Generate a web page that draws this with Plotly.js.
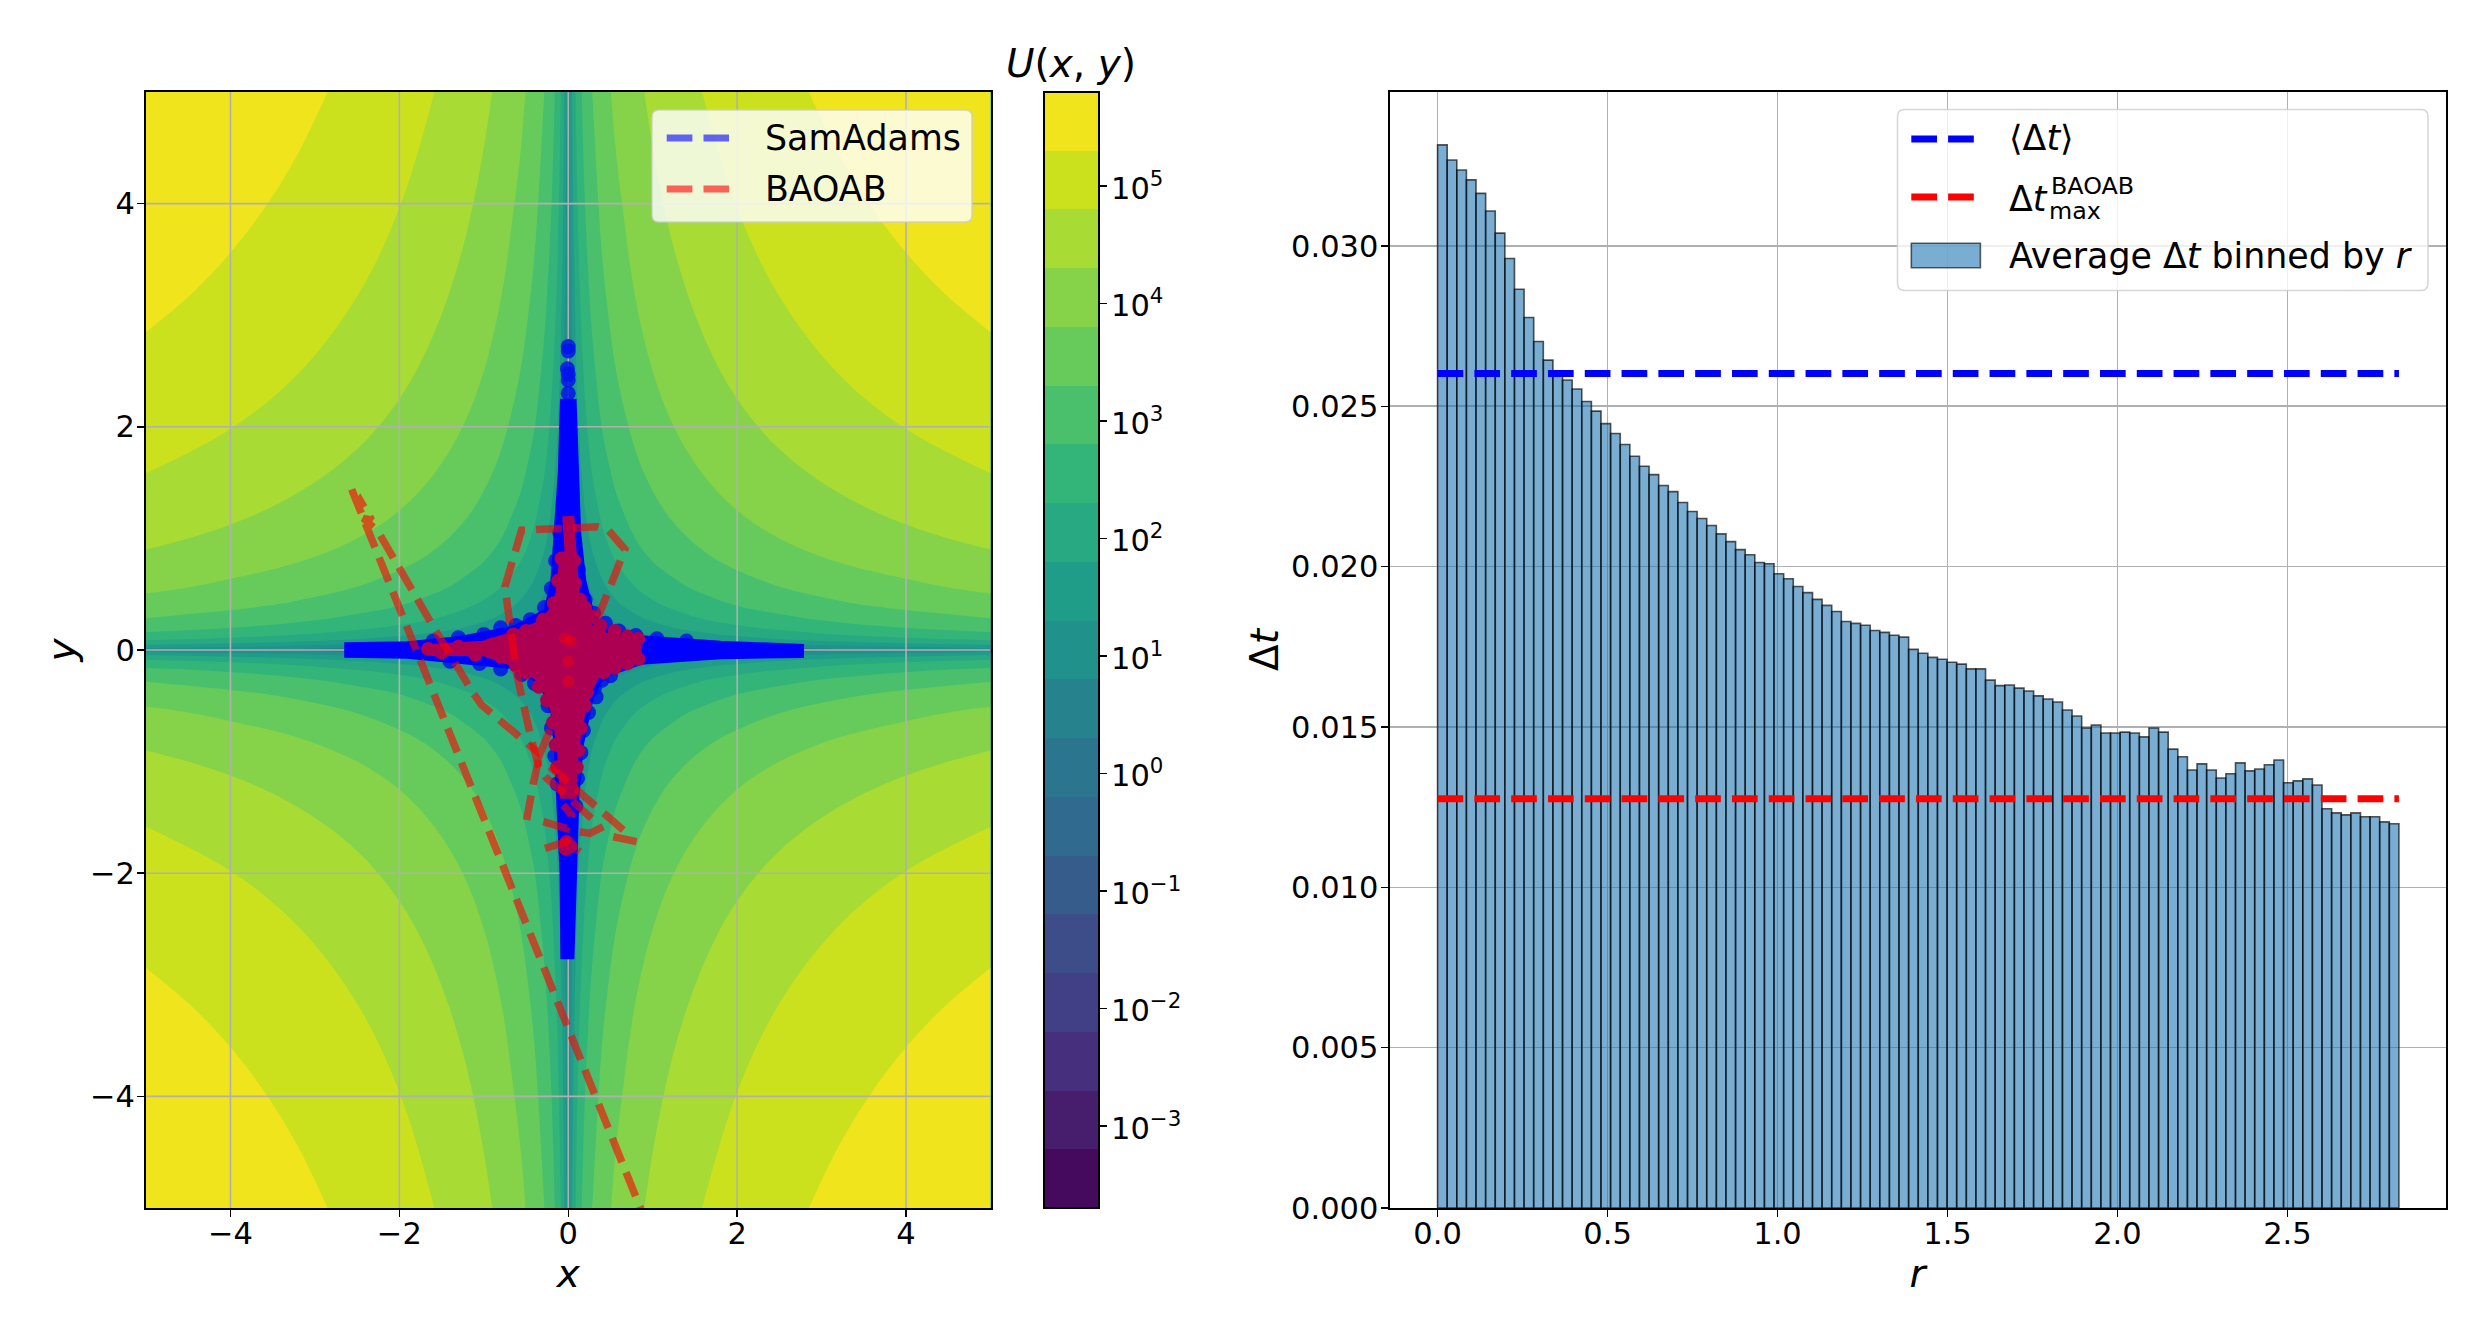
<!DOCTYPE html>
<html>
<head>
<meta charset="utf-8">
<script src="https://cdn.plot.ly/plotly-3.0.1.min.js"></script>
<style>html,body{margin:0;padding:0;background:#fff}</style>
</head>
<body>
<div id="chart" style="width:2490px;height:1337px"></div>
<script>
// Left panel: log10 U, one quadrant (the field is mirror symmetric)
const gridNodes = [0, 0.02, 0.04, 0.07, 0.1, 0.14, 0.2, 0.28, 0.4, 0.56, 0.8, 1, 1.25, 1.6, 2, 2.5, 3.2, 4, 5];
const logU = [
    [-3.70,-3.70,-3.10,-2.61,-2.30,-2.01,-1.70,-1.41,-1.10,-0.80,-0.49,-0.30,-0.11,0.11,0.30,0.49,0.71,0.90,1.10],
    [-3.70,-3.25,-2.79,-2.34,-2.04,-1.75,-1.44,-1.15,-0.84,-0.55,-0.24,-0.05,0.15,0.36,0.56,0.75,0.96,1.16,1.35],
    [-3.10,-2.79,-2.38,-1.96,-1.66,-1.38,-1.07,-0.78,-0.47,-0.18,0.13,0.32,0.52,0.73,0.92,1.12,1.33,1.53,1.72],
    [-2.61,-2.34,-1.96,-1.54,-1.25,-0.97,-0.66,-0.37,-0.06,0.23,0.54,0.73,0.93,1.14,1.33,1.53,1.74,1.94,2.13],
    [-2.30,-2.04,-1.66,-1.25,-0.96,-0.68,-0.37,-0.08,0.23,0.52,0.83,1.02,1.21,1.43,1.62,1.82,2.03,2.23,2.42],
    [-2.01,-1.75,-1.38,-0.97,-0.68,-0.39,-0.09,0.20,0.51,0.80,1.11,1.30,1.50,1.71,1.91,2.10,2.31,2.51,2.70],
    [-1.70,-1.44,-1.07,-0.66,-0.37,-0.09,0.21,0.50,0.81,1.10,1.41,1.61,1.80,2.02,2.21,2.40,2.62,2.81,3.01],
    [-1.41,-1.15,-0.78,-0.37,-0.08,0.20,0.50,0.79,1.10,1.39,1.70,1.90,2.09,2.31,2.50,2.69,2.91,3.10,3.29],
    [-1.10,-0.84,-0.47,-0.06,0.23,0.51,0.81,1.10,1.41,1.70,2.01,2.21,2.40,2.61,2.81,3.00,3.22,3.41,3.60],
    [-0.80,-0.55,-0.18,0.23,0.52,0.80,1.10,1.39,1.70,1.99,2.30,2.50,2.69,2.91,3.10,3.29,3.51,3.70,3.90],
    [-0.49,-0.24,0.13,0.54,0.83,1.11,1.41,1.70,2.01,2.30,2.61,2.81,3.00,3.21,3.41,3.60,3.82,4.01,4.20],
    [-0.30,-0.05,0.32,0.73,1.02,1.30,1.61,1.90,2.21,2.50,2.81,3.00,3.19,3.41,3.60,3.80,4.01,4.20,4.40],
    [-0.11,0.15,0.52,0.93,1.21,1.50,1.80,2.09,2.40,2.69,3.00,3.19,3.39,3.60,3.80,3.99,4.20,4.40,4.59],
    [0.11,0.36,0.73,1.14,1.43,1.71,2.02,2.31,2.61,2.91,3.21,3.41,3.60,3.82,4.01,4.20,4.42,4.61,4.81],
    [0.30,0.56,0.92,1.33,1.62,1.91,2.21,2.50,2.81,3.10,3.41,3.60,3.80,4.01,4.20,4.40,4.61,4.81,5.00],
    [0.49,0.75,1.12,1.53,1.82,2.10,2.40,2.69,3.00,3.29,3.60,3.80,3.99,4.20,4.40,4.59,4.81,5.00,5.19],
    [0.71,0.96,1.33,1.74,2.03,2.31,2.62,2.91,3.22,3.51,3.82,4.01,4.20,4.42,4.61,4.81,5.02,5.21,5.41],
    [0.90,1.16,1.53,1.94,2.23,2.51,2.81,3.10,3.41,3.70,4.01,4.20,4.40,4.61,4.81,5.00,5.21,5.41,5.60],
    [1.10,1.35,1.72,2.13,2.42,2.70,3.01,3.29,3.60,3.90,4.20,4.40,4.59,4.81,5.00,5.19,5.41,5.60,5.80],
];
// one colour per filled band, bottom to top
const bandColors = ["#450a5d","#471d6e","#46307d","#414086","#3c4d8a","#365c8c","#306a8e","#2b768e","#26838e","#21918c","#1f9d89","#29a982","#33b57a","#4bc06c","#67cb5c","#86d349","#a8db33","#cce11d","#f0e51d"];
const cbarRange = [-3.7, 5.8];
const cbarTicks = [-3, -2, -1, 0, 1, 2, 3, 4, 5];
const cbarLabels = ["10<sup>−3</sup>", "10<sup>−2</sup>", "10<sup>−1</sup>", "10<sup>0</sup>", "10<sup>1</sup>", "10<sup>2</sup>", "10<sup>3</sup>", "10<sup>4</sup>", "10<sup>5</sup>"];

// SamAdams cloud: outline of the blue cross
const samX = [0.015,0.04,0.07,0.13,0.24,0.4,0.85,1.8,2.79,2.79,1.8,0.85,0.44,0.32,0.22,0.1,0.05,0.02,0.01,-0.01,-0.02,-0.05,-0.09,-0.13,-0.28,-0.62,-1.3,-1.9,-2.57,-2.57,-1.9,-1.3,-0.62,-0.22,-0.13,-0.08,-0.04,-0.015];
const samY = [2.25,1.6,1.05,0.62,0.28,0.15,0.07,0.02,0.008,-0.008,-0.02,-0.07,-0.18,-0.26,-0.42,-0.85,-1.3,-2,-2.77,-2.77,-2,-1.3,-0.85,-0.55,-0.26,-0.11,-0.05,-0.015,-0.008,0.008,0.015,0.06,0.16,0.32,0.6,1.05,1.6,2.25];
// samples sticking out of that outline, and the loose ones at the top of the arm
const samEdgeX = [0.12,0.2,0.3,0.44,0.6,0.8,1.05,1.4,0.31,0.4,0.5,0.33,0.24,0.18,0.15,0.11,0.09,-0.13,-0.16,-0.2,-0.24,-0.4,-0.55,-0.8,-0.55,-1.05,-1.4,-0.1,-0.15,-0.2,-0.28,-0.45,-0.62,-0.8,-1,-1.3,-1.6,0,0,-0.01,0,0,0];
const samEdgeY = [0.72,0.45,0.33,0.24,0.17,0.13,0.1,0.08,-0.34,-0.27,-0.23,-0.42,-0.56,-0.72,-0.92,-1.15,-1.4,-1.2,-0.95,-0.7,-0.5,-0.3,-0.22,-0.17,-0.16,-0.12,-0.1,1.05,0.8,0.55,0.38,0.27,0.22,0.2,0.14,0.11,0.08,2.72,2.68,2.52,2.47,2.42,2.3];

// BAOAB cloud: outline of the crimson core
const baoX = [0,0.02,0.06,0.13,0.25,0.5,0.8,0.8,0.5,0.3,0.2,0.12,0.05,0.03,-0.03,-0.06,-0.12,-0.2,-0.35,-0.62,-1,-1.62,-1,-0.62,-0.35,-0.18,-0.08,-0.03];
const baoY = [1.2,0.85,0.5,0.3,0.17,0.08,0.05,-0.05,-0.11,-0.22,-0.38,-0.6,-0.9,-1.28,-1.28,-0.9,-0.6,-0.38,-0.22,-0.1,0,0,0.03,0.12,0.2,0.32,0.5,0.85];
const baoEdgeX = [0.83,0.83,0.7,0.7,0.55,0.55,0.38,0.42,0.28,0.22,0.2,0.15,0.12,0.1,0.04,-0.04,-0.13,-0.15,-0.18,-0.25,-0.35,-0.5,-0.62,-0.65,-0.5,-0.3,-0.17,-0.12,-0.08,0.07,0.08,0.14,0.2,-0.9,-1.1,-1.3,-1.5,-1.66,-0.8,-0.02,0.03,-0.03];
const baoEdgeY = [0.1,-0.08,0.12,-0.12,0.17,-0.16,0.22,-0.2,0.3,-0.38,-0.5,-0.7,-0.9,-1.05,-1.25,-1.25,-1.05,-0.85,-0.65,-0.45,-0.33,-0.2,-0.14,0.14,0.17,0.27,0.42,0.62,0.82,0.8,0.6,0.45,0.38,0.05,-0.04,0.03,-0.02,0.01,-0.06,-1.72,-1.76,-1.78];
const baoCoreX = [0, 0.03, -0.04, 0];
const baoCoreY = [-0.28, 0.08, 0.1, -0.1];

// BAOAB excursions, nulls where the dashes in the picture are separate pieces
const pathX = [0.96,-0.612,-2.585,-2.498,-2.467,-2.329,-2.427,-2.25,-1.599,-1.243,-1.125,-1.026,-0.454,-0.336,-0.217,-0.336,-0.414,-0.493,null,-0.296,-0.02,0.039,-0.059,null,-0.276,-0.02,0.138,null,0.138,0.257,0.414,null,0.809,0.533,null,0.651,-0.217,null,0.276,-0.276,-0.355,-0.454,-0.612,-0.691,-0.75,-0.553,-0.355,-0.02,0.336,0.474,0.671,0.355];
const pathY = [-5.2,-2.24,1.478,1.314,1.344,1.165,1.18,1.06,0.209,-0.254,-0.388,-0.493,-0.851,-0.932,-0.717,-0.932,-1.195,-1.523,null,-1.538,-1.598,-1.478,-1.389,null,-1.777,-1.717,-1.807,null,-1.628,-1.643,-1.583,null,-1.717,-1.673,null,-1.613,-1.045,null,-1.508,-1.135,-1.03,-0.747,-0.209,0.239,0.568,1.075,1.075,1.09,1.105,1.075,0.902,0.299];

// Right panel: average step size in 100 bins of r
const binStart = 0.01414;
const binWidth = 0.02828;
const avgDt = [
    0.03315,0.03268,0.03237,0.03206,0.03164,0.03109,0.03040,0.02961,0.02865,0.02777,
    0.02702,0.02644,0.02611,0.02582,0.02554,0.02515,0.02485,0.02446,0.02415,0.02381,
    0.02344,0.02313,0.02287,0.02253,0.02234,0.02200,0.02172,0.02150,0.02128,0.02102,
    0.02078,0.02053,0.02037,0.02013,0.02009,0.01978,0.01962,0.01938,0.01919,0.01898,
    0.01879,0.01860,0.01829,0.01823,0.01817,0.01801,0.01795,0.01786,0.01780,0.01742,
    0.01730,0.01717,0.01711,0.01702,0.01696,0.01681,0.01681,0.01646,0.01629,0.01631,
    0.01621,0.01612,0.01597,0.01587,0.01578,0.01553,0.01534,0.01497,0.01506,0.01481,
    0.01481,0.01484,0.01481,0.01469,0.01497,0.01484,0.01431,0.01407,0.01366,0.01385,
    0.01366,0.01341,0.01354,0.01388,0.01363,0.01369,0.01382,0.01397,0.01326,0.01332,
    0.01338,0.01319,0.01245,0.01232,0.01226,0.01232,0.01220,0.01220,0.01204,0.01198,
];
const rExtent = [0, 2.828];
const meanDt = 0.02602;
const maxDtBaoab = 0.01276;
const leftTicks = [-4, -2, 0, 2, 4];

const W = 2490, H = 1337;
const AXES_TOP = 92, AXES_BOTTOM = 1208;
const FONT = "DejaVu Sans";
const TICK_SIZE = 30.5, LABEL_SIZE = 39, LEGEND_SIZE = 34.8;
const DASH = "25.7px,11.1px";
const GRID = "#b0b0b0";

const px = v => v / W;
const py = v => 1 - v / H;

function mirror(row) {
    return row.slice(1).reverse().concat(row);
}

// the contour layer hides native gridlines, so the left grid is drawn as a trace above it
function gridTrace() {
    const x = [], y = [];
    leftTicks.forEach(t => {
        x.push(t, t, null, -5, 5, null);
        y.push(-5, 5, null, t, t, null);
    });
    return {
        x, y, type: "scatter", mode: "lines", xaxis: "x", yaxis: "y",
        line: { color: GRID, width: 1.6 }, hoverinfo: "skip", showlegend: false,
    };
}

function markerTrace(x, y, color, size) {
    return {
        x, y, type: "scatter", mode: "markers", xaxis: "x", yaxis: "y",
        showlegend: false, hoverinfo: "skip", marker: { color, size },
    };
}

function cloudTrace(x, y, color, width) {
    return {
        x, y, type: "scatter", mode: "lines", fill: "toself", xaxis: "x", yaxis: "y",
        showlegend: false, hoverinfo: "skip", fillcolor: color, line: { color, width },
    };
}

function roundedBox(x0, y0, x1, y1, r) {
    const p = (a, b) => `${px(a)} ${py(b)}`;
    return {
        type: "path", xref: "paper", yref: "paper", layer: "above",
        path: `M${p(x0 + r, y0)} L${p(x1 - r, y0)} Q${p(x1, y0)} ${p(x1, y0 + r)} L${p(x1, y1 - r)} Q${p(x1, y1)} ${p(x1 - r, y1)} L${p(x0 + r, y1)} Q${p(x0, y1)} ${p(x0, y1 - r)} L${p(x0, y0 + r)} Q${p(x0, y0)} ${p(x0 + r, y0)} Z`,
        fillcolor: "rgba(255,255,255,0.8)",
        line: { color: "rgba(204,204,204,0.8)", width: 1.5 },
    };
}

function dashSwatch(x0, x1, y, color) {
    return {
        type: "line", xref: "paper", yref: "paper", layer: "above",
        x0: px(x0), x1: px(x1), y0: py(y), y1: py(y),
        line: { color, width: 7, dash: DASH },
    };
}

function label(x, y, text, size, extra) {
    return Object.assign({
        xref: "paper", yref: "paper", x: px(x), y: py(y), text, showarrow: false,
        xanchor: "left", yanchor: "middle", align: "left",
        font: { family: FONT, size: size || LEGEND_SIZE, color: "#000" },
    }, extra || {});
}

// colorbar labels: centred on the whole "10^n" box like the reference, which the native labels don't do
function cbarLabel(t, i) {
    const frac = (t - cbarRange[0]) / (cbarRange[1] - cbarRange[0]);
    return label(1108.5, AXES_BOTTOM - frac * (AXES_BOTTOM - AXES_TOP), cbarLabels[i], TICK_SIZE);
}

const fullNodes = gridNodes.slice(1).reverse().map(v => -v).concat(gridNodes);

const traces = [
    {
        type: "contour", x: fullNodes, y: fullNodes, z: mirror(logU.map(mirror)),
        xaxis: "x", yaxis: "y",
        zmin: cbarRange[0], zmax: cbarRange[1], zauto: false, autocontour: false,
        colorscale: bandColors.map((c, i) => [i / (bandColors.length - 1), c]),
        hoverinfo: "skip",
        contours: { start: -3.2, end: 5.3, size: 0.5, coloring: "fill", showlines: false },
        line: { width: 0, smoothing: 1 },
        colorbar: {
            x: px(1043.5), xanchor: "left", xpad: 0,
            y: py(AXES_BOTTOM), yanchor: "bottom", ypad: 0,
            len: (AXES_BOTTOM - AXES_TOP) / H, lenmode: "fraction",
            thickness: 55, thicknessmode: "pixels",
            outlinecolor: "#000", outlinewidth: 2,
            tickmode: "array", tickvals: cbarTicks, ticktext: cbarLabels, showticklabels: false,
            ticks: "outside", ticklen: 7, tickwidth: 1.5, tickcolor: "#000",
        },
    },
    gridTrace(),
    markerTrace(samEdgeX, samEdgeY, "rgba(0,20,235,0.85)", 15),
    cloudTrace(samX, samY, "#0000ff", 14),
    cloudTrace(baoX, baoY, "#ad0052", 12),
    markerTrace(baoEdgeX, baoEdgeY, "#ad0052", 14),
    markerTrace(baoCoreX, baoCoreY, "rgba(255,0,0,0.4)", 12),
    {
        x: pathX, y: pathY, type: "scatter", mode: "lines",
        xaxis: "x", yaxis: "y", showlegend: false, hoverinfo: "skip", connectgaps: false,
        line: { color: "rgba(255,0,0,0.6)", width: 7.5, dash: DASH },
    },
    {
        type: "bar", x0: binStart, dx: binWidth, y: avgDt, xaxis: "x2", yaxis: "y2",
        showlegend: false, hoverinfo: "skip",
        marker: { color: "rgba(31,119,180,0.6)", line: { color: "rgba(0,0,0,0.65)", width: 1.6 } },
    },
    {
        x: rExtent, y: [meanDt, meanDt], type: "scatter", mode: "lines",
        xaxis: "x2", yaxis: "y2", showlegend: false, hoverinfo: "skip",
        line: { color: "#0000ff", width: 7, dash: DASH },
    },
    {
        x: rExtent, y: [maxDtBaoab, maxDtBaoab], type: "scatter", mode: "lines",
        xaxis: "x2", yaxis: "y2", showlegend: false, hoverinfo: "skip",
        line: { color: "#ff0000", width: 7, dash: DASH },
    },
];

const axisBase = {
    showline: true, mirror: true, linecolor: "#000", linewidth: 2,
    ticks: "outside", ticklen: 7, tickwidth: 1.5, tickcolor: "#000",
    tickfont: { family: FONT, size: TICK_SIZE, color: "#000" },
    zeroline: false,
};

const layout = {
    width: W, height: H,
    paper_bgcolor: "#fff", plot_bgcolor: "#fff",
    margin: { l: 0, r: 0, t: 0, b: 0, pad: 0 },
    font: { family: FONT, color: "#000" },
    showlegend: false, bargap: 0, hovermode: false,
    xaxis: Object.assign({}, axisBase, {
        domain: [px(146), px(990.5)], range: [-5, 5], anchor: "y",
        tickmode: "array", tickvals: leftTicks, showgrid: false, ticklabelstandoff: -10,
        title: { text: "<i>x</i>", font: { family: FONT, size: LABEL_SIZE }, standoff: 3 },
    }),
    yaxis: Object.assign({}, axisBase, {
        domain: [py(AXES_BOTTOM), py(AXES_TOP)], range: [-5, 5], anchor: "x",
        tickmode: "array", tickvals: leftTicks, showgrid: false, ticklabelstandoff: -4,
        title: { text: "<i>y</i>", font: { family: FONT, size: LABEL_SIZE }, standoff: 2 },
    }),
    xaxis2: Object.assign({}, axisBase, {
        domain: [px(1389.5), px(2445.5)], range: [-0.1414, 2.965], anchor: "y2",
        dtick: 0.5, tick0: 0, tickformat: ".1f", showgrid: true, gridcolor: GRID, gridwidth: 1.6, ticklabelstandoff: -10,
        title: { text: "<i>r</i>", font: { family: FONT, size: LABEL_SIZE }, standoff: 3 },
    }),
    yaxis2: Object.assign({}, axisBase, {
        domain: [py(AXES_BOTTOM), py(AXES_TOP)], range: [0, 0.0348], anchor: "x2",
        dtick: 0.005, tick0: 0, tickformat: ".3f", showgrid: true, gridcolor: GRID, gridwidth: 1.6, ticklabelstandoff: -4,
        title: { text: "Δ<i>t</i>", font: { family: FONT, size: LABEL_SIZE }, standoff: 0 },
    }),
    shapes: [
        roundedBox(652, 110, 972, 222, 7),
        dashSwatch(666.7, 729, 138, "rgba(0,0,255,0.6)"),
        dashSwatch(666.7, 729, 189, "rgba(255,0,0,0.6)"),
        roundedBox(1897.5, 109.5, 2428, 290.5, 7),
        dashSwatch(1911.3, 1974, 139, "#0000ff"),
        dashSwatch(1911.3, 1974, 197, "#ff0000"),
        {
            type: "rect", xref: "paper", yref: "paper", layer: "above",
            x0: px(1911.3), x1: px(1980.4), y0: py(243.3), y1: py(267.7),
            fillcolor: "rgba(31,119,180,0.6)", line: { color: "rgba(0,0,0,0.6)", width: 1.6 },
        },
    ],
    annotations: [
        label(1071, 64, "<i>U</i>(<i>x</i>, <i>y</i>)", LABEL_SIZE, { xanchor: "center" }),
        label(763, 138, "SamAdams"),
        label(763, 189, "BAOAB"),
        label(2007, 138, "⟨Δ<i>t</i>⟩"),
        label(2007, 199, "Δ<i>t</i>"),
        label(2049, 186, "BAOAB", 23.8),
        label(2046.5, 211, "max", 23.8),
        label(2007, 256, "Average Δ<i>t</i> binned by <i>r</i>"),
    ].concat(cbarTicks.map(cbarLabel)),
};

Plotly.newPlot("chart", traces, layout, { staticPlot: true, displayModeBar: false });
</script>
</body>
</html>
